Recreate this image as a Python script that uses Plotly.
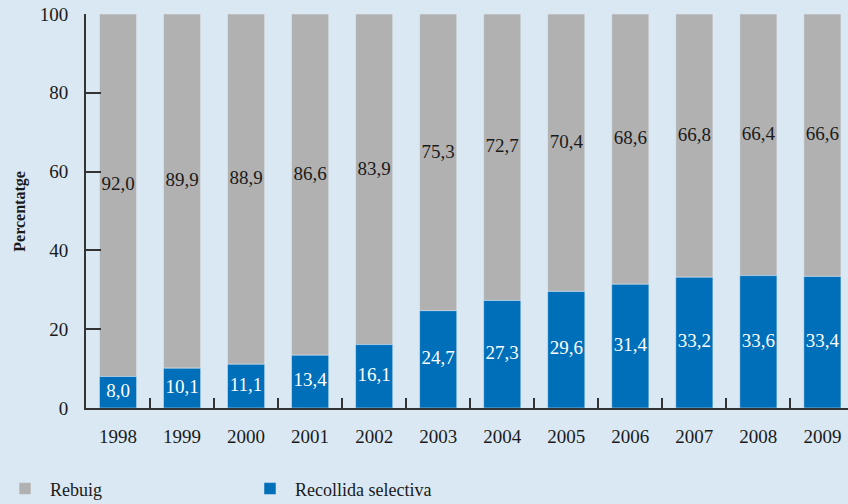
import plotly.graph_objects as go

years = ["1998", "1999", "2000", "2001", "2002", "2003", "2004", "2005", "2006", "2007", "2008", "2009"]
recollida = [8.0, 10.1, 11.1, 13.4, 16.1, 24.7, 27.3, 29.6, 31.4, 33.2, 33.6, 33.4]
rebuig = [92.0, 89.9, 88.9, 86.6, 83.9, 75.3, 72.7, 70.4, 68.6, 66.8, 66.4, 66.6]
y_title = "Percentatge"

def fmt(v):
    return f"{v:.1f}".replace(".", ",")

FONT = "Liberation Serif, DejaVu Serif, serif"
BG = "#d9e8f3"
GRAY = "#b1b1b1"
BLUE = "#006fb9"

fig = go.Figure()
fig.add_trace(go.Bar(
    x=years, y=rebuig, name="Rebuig", marker_color=GRAY, width=0.58,
    base=recollida, hoverinfo="skip",
))
fig.add_trace(go.Bar(
    x=years, y=recollida, name="Recollida selectiva", marker_color=BLUE, width=0.58,
    hoverinfo="skip",
))
fig.add_trace(go.Scatter(
    x=years, y=[v / 2 for v in recollida],
    mode="text", text=[fmt(v) for v in recollida], textposition="middle center",
    textfont=dict(family=FONT, size=19, color="white"),
    showlegend=False, hoverinfo="skip", cliponaxis=False,
))
fig.add_trace(go.Scatter(
    x=years, y=[b + v / 2 for b, v in zip(recollida, rebuig)],
    mode="text", text=[fmt(v) for v in rebuig], textposition="top center",
    textfont=dict(family=FONT, size=19, color="#1a1a1a"),
    showlegend=False, hoverinfo="skip", cliponaxis=False,
))

fig.add_annotation(text="<b>%s</b>" % y_title, xref="paper", yref="paper",
                   x=-0.087, y=0.5, xanchor="center", yanchor="middle",
                   textangle=-90, showarrow=False,
                   font=dict(family=FONT, size=16, color="#1a1a1a"))

fig.update_layout(
    barmode="overlay",
    width=848, height=504,
    paper_bgcolor=BG, plot_bgcolor=BG,
    margin=dict(l=86, r=0, t=14, b=96, autoexpand=False),
    font=dict(family=FONT, size=17, color="#1a1a1a"),
    showlegend=True,
    legend=dict(orientation="h", x=0.0, xref="container", xanchor="left",
                y=0.03, yref="container", yanchor="middle",
                font=dict(family=FONT, size=18, color="#1a1a1a"),
                entrywidth=190, entrywidthmode="pixels", itemwidth=40,
                traceorder="normal", bgcolor="rgba(0,0,0,0)"),
    xaxis=dict(
        type="category", range=[-0.5, 11.4], automargin=False,
        showline=True, linecolor="#333333", linewidth=2,
        ticks="inside", ticklen=10, tickcolor="#333333", tickwidth=1.5,
        tickson="boundaries", showgrid=False, zeroline=False,
        ticklabelstandoff=10,
        tickfont=dict(family=FONT, size=19, color="#1a1a1a"),
    ),
    yaxis=dict(
        range=[0, 100], tickvals=[0, 20, 40, 60, 80, 100], automargin=False,
        showline=True, linecolor="#333333", linewidth=2,
        ticks="inside", ticklen=15, tickcolor="#333333", tickwidth=2,
        showgrid=False, zeroline=False,
        ticklabelstandoff=12,
        tickfont=dict(family=FONT, size=19, color="#1a1a1a"),
    ),
)
fig.write_html("out.html", config={"displayModeBar": False},
               post_script="document.body.style.margin='0';document.body.style.background='%s';" % BG)
